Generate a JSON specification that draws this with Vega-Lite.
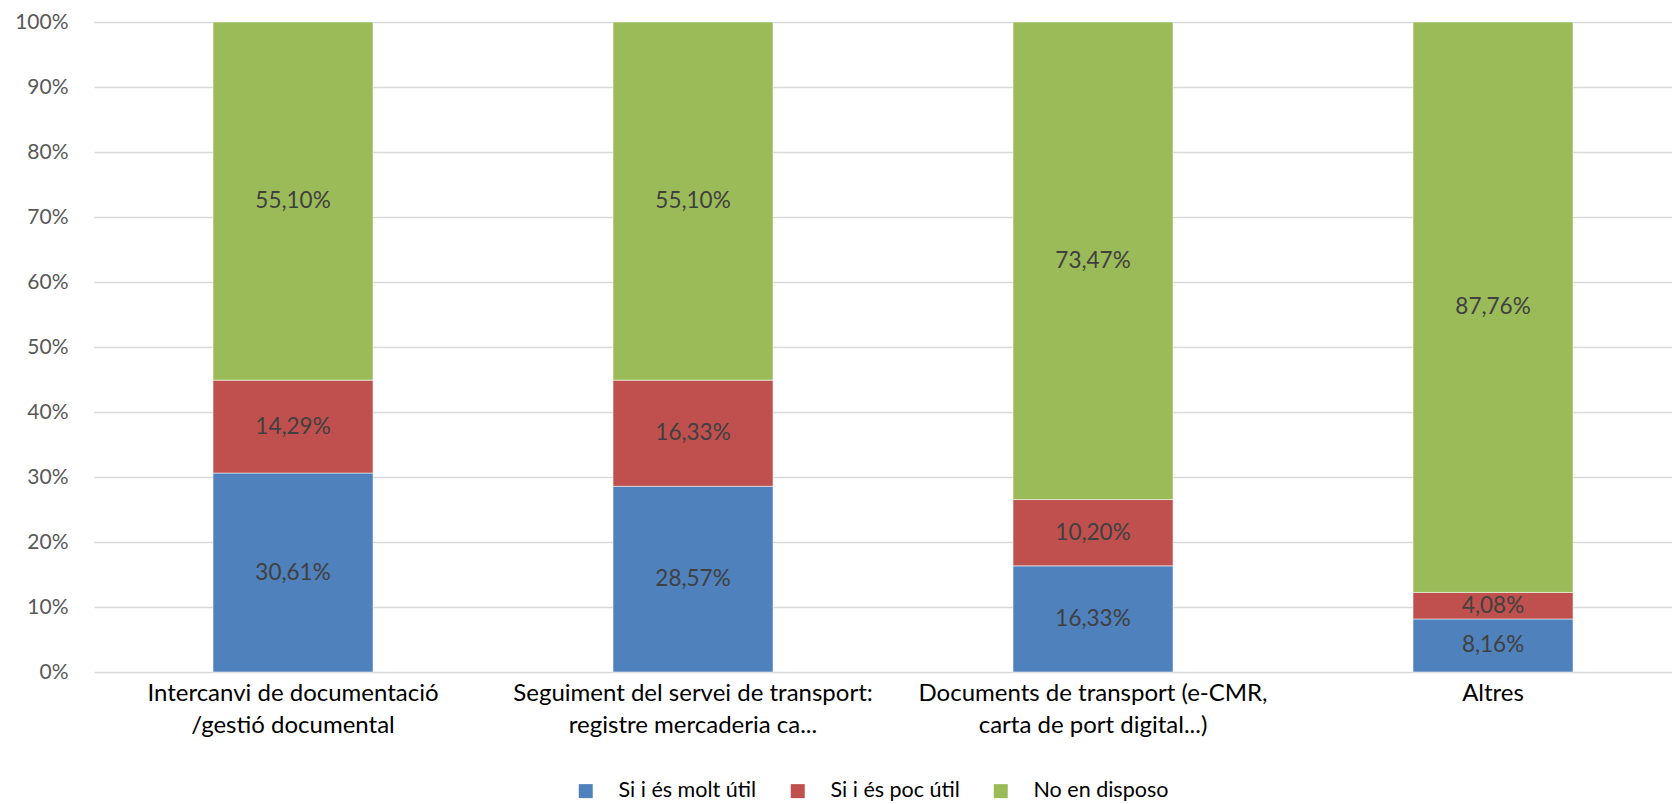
{
  "$schema": "https://vega.github.io/schema/vega-lite/v6.json",
  "autosize": {"type": "none"},
  "padding": {"left": 94, "top": 22, "right": 0, "bottom": 132},
  "width": 1578,
  "height": 650,
  "background": "white",
  "config": {
    "view": {"stroke": null},
    "locale": {"number": {"decimal": ",", "thousands": ".", "grouping": [3], "currency": ["", " €"]}},
    "font": "Lato"
  },
  "data": {
    "values": [
      {"cat": "Intercanvi de documentació\n/gestió documental", "serie": "Si i és molt útil", "k": 1, "v": 0.3061},
      {"cat": "Intercanvi de documentació\n/gestió documental", "serie": "Si i és poc útil", "k": 2, "v": 0.1429},
      {"cat": "Intercanvi de documentació\n/gestió documental", "serie": "No en disposo", "k": 3, "v": 0.5510},
      {"cat": "Seguiment del servei de transport:\nregistre mercaderia ca...", "serie": "Si i és molt útil", "k": 1, "v": 0.2857},
      {"cat": "Seguiment del servei de transport:\nregistre mercaderia ca...", "serie": "Si i és poc útil", "k": 2, "v": 0.1633},
      {"cat": "Seguiment del servei de transport:\nregistre mercaderia ca...", "serie": "No en disposo", "k": 3, "v": 0.5510},
      {"cat": "Documents de transport (e-CMR,\ncarta de port digital...)", "serie": "Si i és molt útil", "k": 1, "v": 0.1633},
      {"cat": "Documents de transport (e-CMR,\ncarta de port digital...)", "serie": "Si i és poc útil", "k": 2, "v": 0.1020},
      {"cat": "Documents de transport (e-CMR,\ncarta de port digital...)", "serie": "No en disposo", "k": 3, "v": 0.7347},
      {"cat": "Altres", "serie": "Si i és molt útil", "k": 1, "v": 0.0816},
      {"cat": "Altres", "serie": "Si i és poc útil", "k": 2, "v": 0.0408},
      {"cat": "Altres", "serie": "No en disposo", "k": 3, "v": 0.8776}
    ]
  },
  "encoding": {
    "x": {
      "field": "cat", "type": "nominal", "sort": null,
      "scale": {"paddingInner": 0.6, "paddingOuter": 0.2725, "align": 0.546},
      "axis": {
        "title": null, "labelAngle": 0, "domain": false, "ticks": false,
        "labelExpr": "split(datum.label, '\\n')",
        "labelFont": "Lato", "labelFontSize": 24, "labelColor": "#000000",
        "labelPadding": 9, "labelLineHeight": 32, "labelBaseline": "top", "labelLimit": 0
      }
    },
    "y": {
      "field": "v", "type": "quantitative", "stack": "zero",
      "scale": {"domain": [0, 1]},
      "axis": {
        "title": null, "format": ".0%", "values": [0, 0.1, 0.2, 0.3, 0.4, 0.5, 0.6, 0.7, 0.8, 0.9, 1],
        "domain": false, "ticks": false, "labelPadding": 26,
        "labelFont": "Lato", "labelFontSize": 21, "labelColor": "#595959",
        "gridColor": "#D9D9D9", "gridWidth": 1.5
      }
    },
    "order": {"field": "k", "type": "quantitative"}
  },
  "layer": [
    {
      "mark": {"type": "bar", "stroke": "#ffffff", "strokeWidth": 1, "strokeOpacity": 0.5},
      "encoding": {
        "color": {
          "field": "serie", "type": "nominal",
          "scale": {"domain": ["Si i és molt útil", "Si i és poc útil", "No en disposo"], "range": ["#4F81BD", "#C0504D", "#9BBB59"]},
          "legend": {
            "title": null, "orient": "none", "direction": "horizontal",
            "legendX": 481, "legendY": 758,
            "symbolType": "square", "symbolSize": 196, "symbolStrokeWidth": 0,
            "labelFont": "Lato", "labelFontSize": 21.5, "labelColor": "#000000",
            "labelOffset": 22, "columnPadding": 30
          }
        }
      }
    },
    {
      "mark": {"type": "text", "font": "Lato", "fontSize": 22.5, "color": "#404040"},
      "encoding": {
        "y": {"field": "v", "type": "quantitative", "stack": "zero", "bandPosition": 0.5},
        "text": {"field": "v", "type": "quantitative", "format": ".2%"}
      }
    }
  ]
}
